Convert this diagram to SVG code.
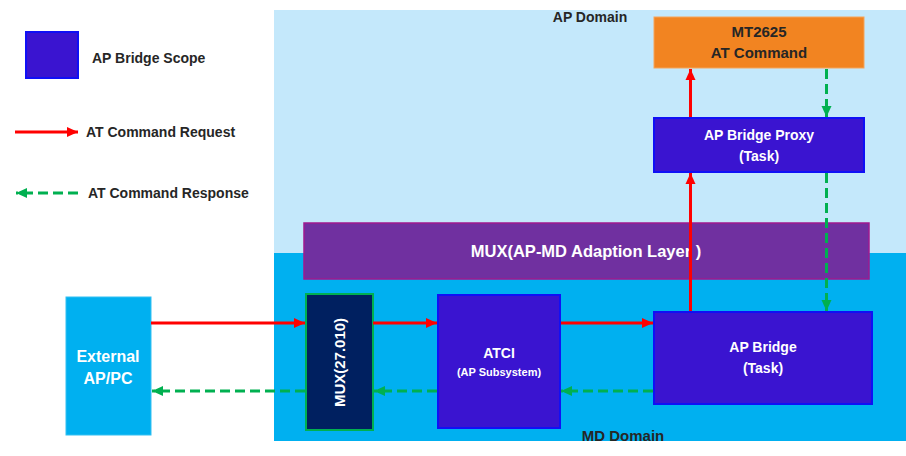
<svg xmlns="http://www.w3.org/2000/svg" width="906" height="456" viewBox="0 0 906 456">
<style>
text{font-family:"Liberation Sans",Arial,sans-serif;font-weight:bold;text-anchor:middle}
.dark{fill:#262626}
.wh{fill:#ffffff}
.blk{fill:#3A14D0;stroke:#1010F5;stroke-width:2}
.req{stroke:#FF0000;stroke-width:3;fill:none}
.rsp{stroke:#00B050;stroke-width:3;fill:none;stroke-dasharray:10 5}
</style>
<defs>
<marker id="ah-red" markerUnits="userSpaceOnUse" markerWidth="12" markerHeight="12" refX="11" refY="6" orient="auto">
<path d="M0,1 L11,6 L0,11 Z" fill="#FF0000"/>
</marker>
<marker id="ah-green" markerUnits="userSpaceOnUse" markerWidth="12" markerHeight="12" refX="11" refY="6" orient="auto">
<path d="M0,1 L11,6 L0,11 Z" fill="#00B050"/>
</marker>
</defs>
<rect width="906" height="456" fill="#ffffff"/>

<g id="ap-domain">
<rect x="274" y="10" width="632" height="243" fill="#C4E8FB"/>
<text x="590" y="22" class="dark" font-size="14">AP Domain</text>
</g>
<g id="md-domain">
<rect x="274" y="253" width="632" height="188" fill="#00B0F0"/>
<text x="623" y="441" class="dark" font-size="15">MD Domain</text>
</g>

<g id="legend">
<rect x="26" y="32" width="52" height="46" class="blk"/>
<text x="92" y="63" class="dark" font-size="14" style="text-anchor:start">AP Bridge Scope</text>
<line x1="15" y1="132" x2="78" y2="132" class="req" marker-end="url(#ah-red)"/>
<text x="86" y="137" class="dark" font-size="14" style="text-anchor:start">AT Command Request</text>
<line x1="78" y1="193" x2="16" y2="193" class="rsp" marker-end="url(#ah-green)"/>
<text x="88" y="198" class="dark" font-size="14" style="text-anchor:start">AT Command Response</text>
</g>

<g id="mt2625">
<rect x="654" y="17" width="210" height="51" fill="#F28421" stroke="#F5A45A" stroke-width="1"/>
<text x="759" y="37" class="dark" font-size="15">MT2625</text>
<text x="759" y="58" class="dark" font-size="15">AT Command</text>
</g>

<g id="ap-bridge-proxy">
<rect x="654" y="118" width="210" height="54" class="blk"/>
<text x="759" y="140" class="wh" font-size="14">AP Bridge Proxy</text>
<text x="759" y="161" class="wh" font-size="14">(Task)</text>
</g>

<g id="mux-adaption">
<rect x="304" y="223" width="565" height="56" fill="#7030A0" stroke="#A0188F" stroke-width="1.5"/>
<text x="586" y="257" class="wh" font-size="16.5">MUX(AP-MD Adaption Layer )</text>
</g>

<g id="external">
<rect x="66" y="297" width="85" height="138" fill="#00B0F0" stroke="#33C0F2" stroke-width="1"/>
<text x="108" y="362" class="wh" font-size="16">External</text>
<text x="108" y="384" class="wh" font-size="16">AP/PC</text>
</g>

<g id="mux-27010">
<rect x="306" y="294" width="67" height="136" fill="#002060" stroke="#00B050" stroke-width="2"/>
<text x="0" y="0" class="wh" font-size="15" transform="translate(345 362.5) rotate(-90)">MUX(27.010)</text>
</g>

<g id="atci">
<rect x="438" y="295" width="122" height="133" class="blk"/>
<text x="499" y="358" class="wh" font-size="14">ATCI</text>
<text x="499" y="376" class="wh" font-size="11">(AP Subsystem)</text>
</g>

<g id="ap-bridge">
<rect x="654" y="312" width="218" height="92" class="blk"/>
<text x="763" y="352" class="wh" font-size="14">AP Bridge</text>
<text x="763" y="373" class="wh" font-size="14">(Task)</text>
</g>

<g id="connectors">
<line x1="151" y1="323" x2="305" y2="323" class="req" marker-end="url(#ah-red)"/>
<line x1="373" y1="323" x2="437" y2="323" class="req" marker-end="url(#ah-red)"/>
<line x1="561" y1="323" x2="653" y2="323" class="req" marker-end="url(#ah-red)"/>
<line x1="690.5" y1="311" x2="690.5" y2="173" class="req" marker-end="url(#ah-red)"/>
<line x1="690.5" y1="117" x2="690.5" y2="69" class="req" marker-end="url(#ah-red)"/>
<line x1="826.5" y1="69" x2="826.5" y2="117" class="rsp" marker-end="url(#ah-green)"/>
<line x1="826.5" y1="173" x2="826.5" y2="311" class="rsp" marker-end="url(#ah-green)"/>
<line x1="653" y1="391" x2="561" y2="391" class="rsp" marker-end="url(#ah-green)"/>
<line x1="437" y1="391" x2="374" y2="391" class="rsp" marker-end="url(#ah-green)"/>
<line x1="305" y1="391" x2="152" y2="391" class="rsp" marker-end="url(#ah-green)"/>
</g>
</svg>
